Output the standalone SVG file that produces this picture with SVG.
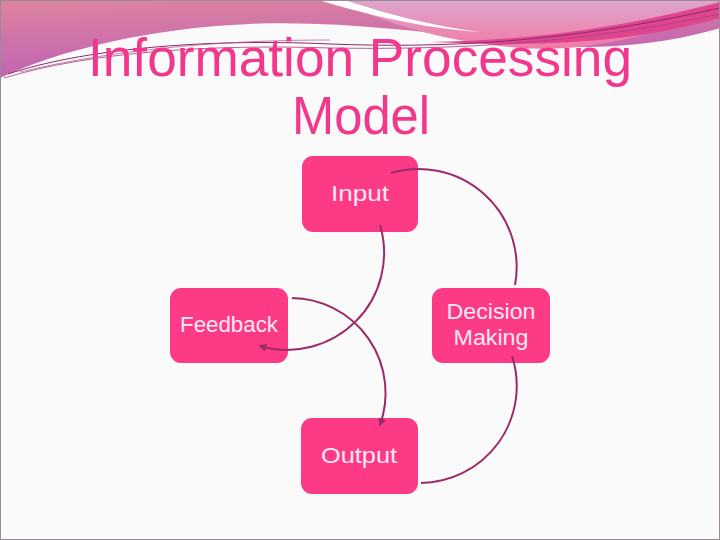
<svg xmlns="http://www.w3.org/2000/svg" width="720" height="540" viewBox="0 0 720 540">
<defs>
<linearGradient id="gLeft" x1="0" y1="0" x2="0.3" y2="1">
<stop offset="0" stop-color="#dc84a0"/>
<stop offset="1" stop-color="#c060b4"/>
</linearGradient>
<linearGradient id="gRight" x1="0" y1="0" x2="0" y2="1">
<stop offset="0" stop-color="#dca6cc"/>
<stop offset="1" stop-color="#f27aa6"/>
</linearGradient>
<marker id="arr" viewBox="0 0 10 10" refX="8" refY="5" markerWidth="4" markerHeight="4" orient="auto" markerUnits="strokeWidth">
<path d="M0,0 L10,5 L0,10 Z" fill="#9c2a68"/>
</marker>
<style>
.box{fill:#fd3a86}
.lbl{font-family:"Liberation Sans","DejaVu Sans",sans-serif;font-size:22px;fill:#ffe8f3;text-anchor:middle}
.title{font-family:"Liberation Sans","DejaVu Sans",sans-serif;font-size:53px;fill:#f2388c;text-anchor:middle}
.con{fill:none;stroke:#9c2a68;stroke-width:2}
</style>
</defs>
<rect x="0" y="0" width="720" height="540" fill="#fbfafb"/>
<!-- decorative top band -->
<path d="M0,0 H720 V28 C680,40 620,50 560,46 C450,36 350,20 250,24 C150,28 60,50 0,78 Z" fill="url(#gLeft)"/>
<path d="M330,0 H720 V10 C640,40 580,52 520,48 C450,42 400,28 360,10 Z" fill="url(#gRight)"/>
<path d="M318,0 H345 C375,10 420,24 480,32 C420,28 365,14 318,0 Z" fill="#ffffff"/>
<path d="M430,42 C560,40 650,20 720,2 V18 C640,40 560,48 430,42 Z" fill="#e0458f"/>
<path d="M8,74 C80,50 200,38 330,44 C440,48 560,44 720,8" fill="none" stroke="#8a2a6a" stroke-width="1"/>
<path d="M4,78 C90,52 210,44 330,48 C450,50 580,44 720,14" fill="none" stroke="#a0407a" stroke-width="0.8"/>
<path d="M20,72 C120,48 230,40 330,40" fill="none" stroke="#b05088" stroke-width="0.7"/>
<rect x="0.5" y="0.5" width="719" height="539" fill="none" stroke="#9a8a96" stroke-width="1"/>
<g id="title">
<text class="title" x="360" y="76" textLength="544" lengthAdjust="spacingAndGlyphs">Information Processing</text>
<text class="title" x="361" y="134" textLength="138" lengthAdjust="spacingAndGlyphs">Model</text>
</g>
<g id="node-input">
<rect class="box" x="302" y="156" width="116" height="76" rx="11"/>
<text class="lbl" x="360" y="201" textLength="58" lengthAdjust="spacingAndGlyphs">Input</text>
</g>
<g id="node-feedback">
<rect class="box" x="170" y="288" width="118" height="75" rx="11"/>
<text class="lbl" x="229" y="332" textLength="98" lengthAdjust="spacingAndGlyphs">Feedback</text>
</g>
<g id="node-decision">
<rect class="box" x="432" y="288" width="118" height="75" rx="11"/>
<text class="lbl" x="491" y="319" textLength="89" lengthAdjust="spacingAndGlyphs">Decision</text>
<text class="lbl" x="491" y="345" textLength="75" lengthAdjust="spacingAndGlyphs">Making</text>
</g>
<g id="node-output">
<rect class="box" x="301" y="418" width="117" height="76" rx="11"/>
<text class="lbl" x="359" y="463" textLength="76" lengthAdjust="spacingAndGlyphs">Output</text>
</g>
<g id="connectors">
<path id="c1" class="con" d="M391,173 A98,98 0 0 1 515,285"/>
<path id="c2" class="con" d="M512,356 A97,97 0 0 1 421,483"/>
<path id="c3" class="con" d="M380,225 A97,97 0 0 1 260,346" marker-end="url(#arr)"/>
<path id="c4" class="con" d="M292,298 A95,95 0 0 1 380,425" marker-end="url(#arr)"/>
</g>
</svg>
